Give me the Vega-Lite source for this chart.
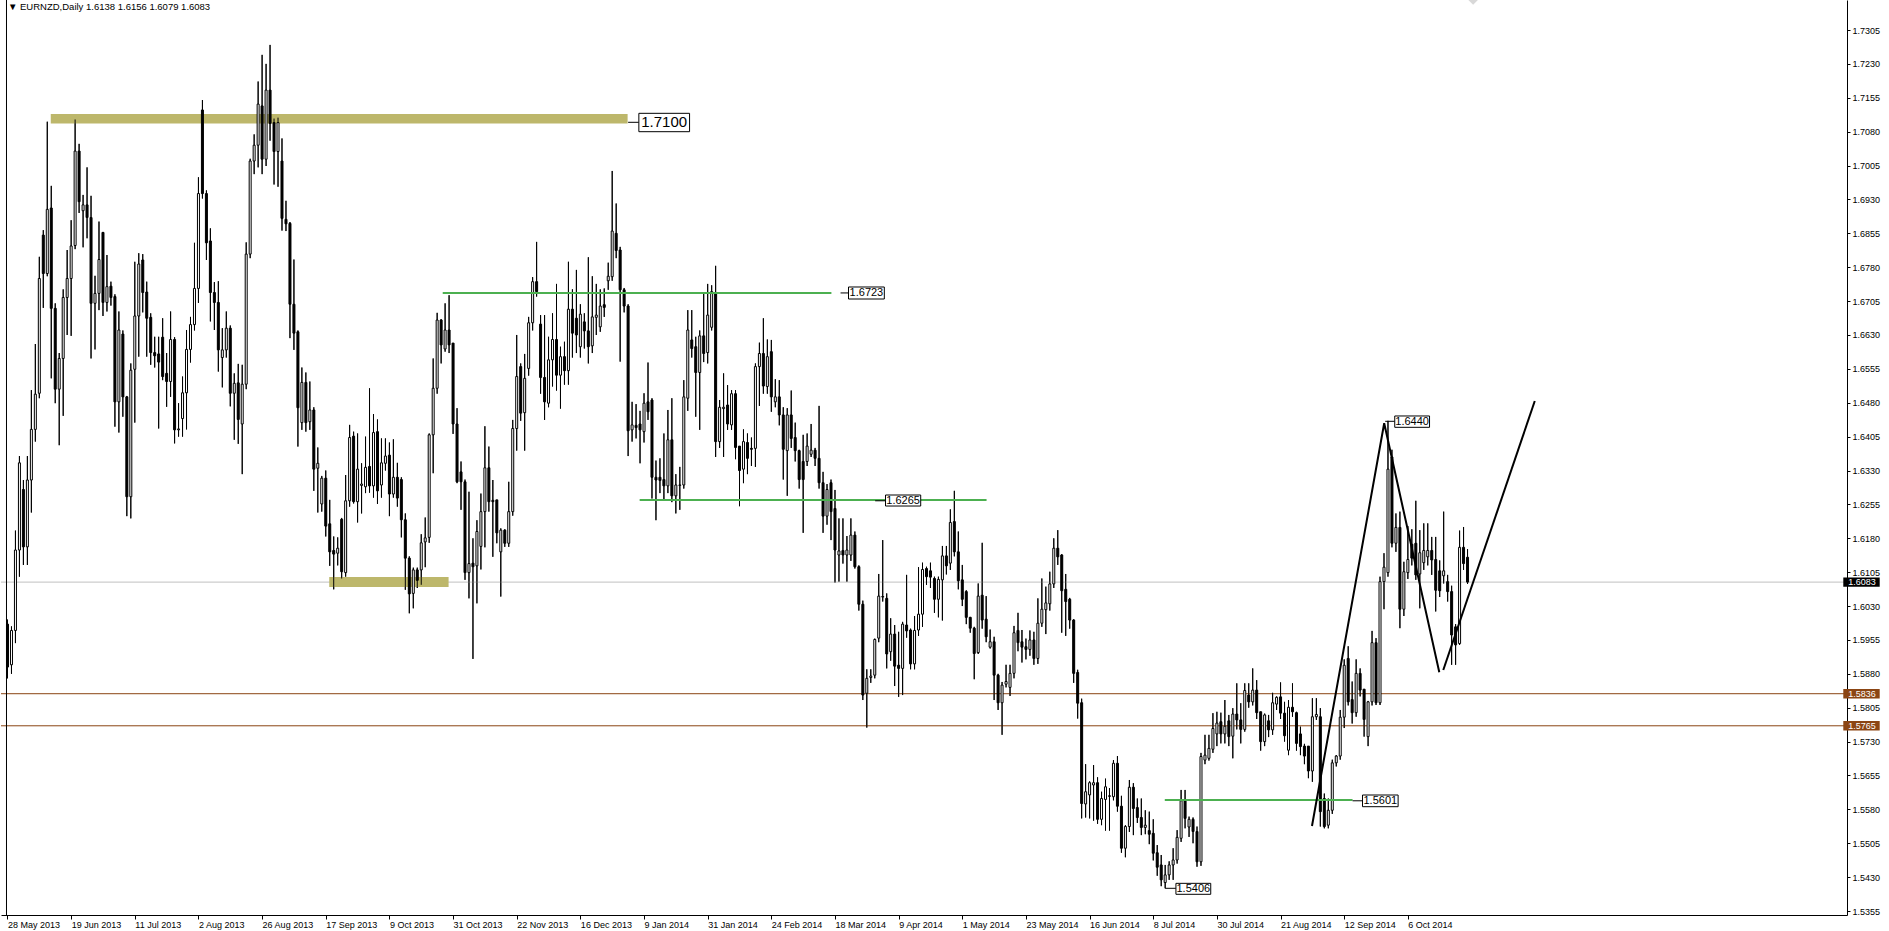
{
"$schema":"https://vega.github.io/schema/vega-lite/v6.json",
"width":1846,"height":915,
"autosize":{"type":"none"},
"padding":{"left":1,"top":0,"right":42,"bottom":16},
"background":"white",
"config":{"view":{"stroke":null},"axis":{"grid":false},"font":"Liberation Sans"},
"resolve":{"axis":{"x":"independent","y":"independent"}},
"datasets":{
"hlines":[{"p":1.6083,"col":"#C0C0C0"},{"p":1.5836,"col":"#8B4513"},{"p":1.5765,"col":"#8B4513"}],
"border":[{"i":-0.25}],
"zones":[{"x1":10.875,"x2":155.875,"y1":1.7119,"y2":1.7098},{"x1":80.875,"x2":110.875,"y1":1.60943,"y2":1.60722}],
"candles":[
{"i":0,"o":1.599,"h":1.6,"l":1.587,"c":1.5895},
{"i":1,"o":1.59,"h":1.5985,"l":1.588,"c":1.5976},
{"i":2,"o":1.5976,"h":1.6197,"l":1.5948,"c":1.6154},
{"i":3,"o":1.6154,"h":1.6362,"l":1.6095,"c":1.6347},
{"i":4,"o":1.6288,"h":1.6309,"l":1.6121,"c":1.6161},
{"i":5,"o":1.6161,"h":1.6362,"l":1.6121,"c":1.6309},
{"i":6,"o":1.6309,"h":1.6508,"l":1.6237,"c":1.6421},
{"i":7,"o":1.6421,"h":1.661,"l":1.6394,"c":1.6499},
{"i":8,"o":1.6501,"h":1.6803,"l":1.649,"c":1.6755},
{"i":9,"o":1.6851,"h":1.6862,"l":1.669,"c":1.6766},
{"i":10,"o":1.6766,"h":1.7102,"l":1.676,"c":1.6908},
{"i":11,"o":1.6911,"h":1.696,"l":1.6534,"c":1.6689},
{"i":12,"o":1.6689,"h":1.67,"l":1.6479,"c":1.651},
{"i":13,"o":1.651,"h":1.659,"l":1.6386,"c":1.6578},
{"i":14,"o":1.6578,"h":1.6731,"l":1.6451,"c":1.6713},
{"i":15,"o":1.6713,"h":1.6818,"l":1.663,"c":1.6755},
{"i":16,"o":1.6755,"h":1.6884,"l":1.6628,"c":1.6827},
{"i":17,"o":1.6828,"h":1.7107,"l":1.682,"c":1.7037},
{"i":18,"o":1.7037,"h":1.7053,"l":1.69,"c":1.6925},
{"i":19,"o":1.6905,"h":1.694,"l":1.6824,"c":1.6918},
{"i":20,"o":1.6918,"h":1.7001,"l":1.6844,"c":1.689},
{"i":21,"o":1.689,"h":1.6938,"l":1.6578,"c":1.67},
{"i":22,"o":1.67,"h":1.6761,"l":1.6598,"c":1.6722},
{"i":23,"o":1.6722,"h":1.6881,"l":1.6685,"c":1.6797},
{"i":24,"o":1.6857,"h":1.6858,"l":1.6672,"c":1.6702},
{"i":25,"o":1.6702,"h":1.6807,"l":1.6682,"c":1.6737},
{"i":26,"o":1.6738,"h":1.6748,"l":1.6695,"c":1.6713},
{"i":27,"o":1.6715,"h":1.672,"l":1.6427,"c":1.6482},
{"i":28,"o":1.6482,"h":1.6682,"l":1.6414,"c":1.6641},
{"i":29,"o":1.6632,"h":1.664,"l":1.6449,"c":1.6493},
{"i":30,"o":1.6493,"h":1.6495,"l":1.6229,"c":1.6272},
{"i":31,"o":1.6272,"h":1.6567,"l":1.6224,"c":1.6552},
{"i":32,"o":1.6554,"h":1.6792,"l":1.6436,"c":1.6672},
{"i":33,"o":1.6672,"h":1.6811,"l":1.6582,"c":1.6787},
{"i":34,"o":1.6796,"h":1.6809,"l":1.668,"c":1.6724},
{"i":35,"o":1.6725,"h":1.6748,"l":1.6582,"c":1.6667},
{"i":36,"o":1.6669,"h":1.6678,"l":1.6564,"c":1.6591},
{"i":37,"o":1.6591,"h":1.6626,"l":1.6558,"c":1.6584},
{"i":38,"o":1.6588,"h":1.6626,"l":1.6423,"c":1.657},
{"i":39,"o":1.6625,"h":1.6667,"l":1.653,"c":1.6538},
{"i":40,"o":1.6545,"h":1.659,"l":1.6471,"c":1.6527},
{"i":41,"o":1.6527,"h":1.6682,"l":1.6493,"c":1.662},
{"i":42,"o":1.662,"h":1.6625,"l":1.639,"c":1.642},
{"i":43,"o":1.642,"h":1.6479,"l":1.6405,"c":1.6422},
{"i":44,"o":1.6445,"h":1.6538,"l":1.6405,"c":1.6502},
{"i":45,"o":1.6502,"h":1.6641,"l":1.6421,"c":1.6598},
{"i":46,"o":1.6598,"h":1.667,"l":1.6569,"c":1.6653},
{"i":47,"o":1.6653,"h":1.6834,"l":1.664,"c":1.6733},
{"i":48,"o":1.6733,"h":1.6979,"l":1.6701,"c":1.6943},
{"i":49,"o":1.7128,"h":1.715,"l":1.6932,"c":1.6943},
{"i":50,"o":1.6943,"h":1.695,"l":1.6796,"c":1.6834},
{"i":51,"o":1.6838,"h":1.6866,"l":1.666,"c":1.6724},
{"i":52,"o":1.6724,"h":1.6747,"l":1.6641,"c":1.6702},
{"i":53,"o":1.6702,"h":1.6749,"l":1.6549,"c":1.6597},
{"i":54,"o":1.658,"h":1.6645,"l":1.6514,"c":1.6597},
{"i":55,"o":1.6597,"h":1.6682,"l":1.658,"c":1.6645},
{"i":56,"o":1.6645,"h":1.6651,"l":1.6472,"c":1.6501},
{"i":57,"o":1.6501,"h":1.6545,"l":1.6398,"c":1.6523},
{"i":58,"o":1.6524,"h":1.6566,"l":1.6389,"c":1.6443},
{"i":59,"o":1.6433,"h":1.6564,"l":1.6322,"c":1.6521},
{"i":60,"o":1.6521,"h":1.6835,"l":1.651,"c":1.6809},
{"i":61,"o":1.6809,"h":1.702,"l":1.68,"c":1.7015},
{"i":62,"o":1.7015,"h":1.7074,"l":1.6986,"c":1.705},
{"i":63,"o":1.705,"h":1.7191,"l":1.7001,"c":1.7141},
{"i":64,"o":1.7137,"h":1.725,"l":1.6986,"c":1.7019},
{"i":65,"o":1.7019,"h":1.723,"l":1.7004,"c":1.7172},
{"i":66,"o":1.7172,"h":1.7272,"l":1.706,"c":1.7098},
{"i":67,"o":1.71,"h":1.7109,"l":1.6963,"c":1.7036},
{"i":68,"o":1.7036,"h":1.7111,"l":1.6958,"c":1.71},
{"i":69,"o":1.7015,"h":1.7065,"l":1.6861,"c":1.6888},
{"i":70,"o":1.6886,"h":1.6927,"l":1.686,"c":1.6876},
{"i":71,"o":1.6877,"h":1.688,"l":1.6623,"c":1.6698},
{"i":72,"o":1.6698,"h":1.6797,"l":1.6597,"c":1.6634},
{"i":73,"o":1.6637,"h":1.664,"l":1.6383,"c":1.6469},
{"i":74,"o":1.6436,"h":1.6558,"l":1.642,"c":1.6525},
{"i":75,"o":1.6525,"h":1.6547,"l":1.6416,"c":1.6436},
{"i":76,"o":1.6438,"h":1.6527,"l":1.642,"c":1.6464},
{"i":77,"o":1.6464,"h":1.647,"l":1.6285,"c":1.6333},
{"i":78,"o":1.6335,"h":1.6381,"l":1.6237,"c":1.6346},
{"i":79,"o":1.6256,"h":1.6318,"l":1.6239,"c":1.6313},
{"i":80,"o":1.6313,"h":1.633,"l":1.6184,"c":1.6207},
{"i":81,"o":1.6212,"h":1.6265,"l":1.6119,"c":1.615},
{"i":82,"o":1.6153,"h":1.6184,"l":1.6067,"c":1.6145},
{"i":83,"o":1.6147,"h":1.6182,"l":1.612,"c":1.6158},
{"i":84,"o":1.6222,"h":1.6225,"l":1.6091,"c":1.6106},
{"i":85,"o":1.6104,"h":1.632,"l":1.6095,"c":1.6263},
{"i":86,"o":1.6263,"h":1.6431,"l":1.625,"c":1.6403},
{"i":87,"o":1.6406,"h":1.6416,"l":1.6257,"c":1.6261},
{"i":88,"o":1.6261,"h":1.6412,"l":1.6215,"c":1.6333},
{"i":89,"o":1.6297,"h":1.6346,"l":1.6235,"c":1.63},
{"i":90,"o":1.6294,"h":1.6405,"l":1.628,"c":1.6337},
{"i":91,"o":1.6339,"h":1.6512,"l":1.6281,"c":1.6296},
{"i":92,"o":1.6296,"h":1.6455,"l":1.627,"c":1.6414},
{"i":93,"o":1.6416,"h":1.6443,"l":1.6256,"c":1.6285},
{"i":94,"o":1.6298,"h":1.6401,"l":1.627,"c":1.6347},
{"i":95,"o":1.6346,"h":1.6401,"l":1.633,"c":1.6362},
{"i":96,"o":1.6364,"h":1.6392,"l":1.6229,"c":1.6278},
{"i":97,"o":1.6278,"h":1.6399,"l":1.627,"c":1.6315},
{"i":98,"o":1.6315,"h":1.6347,"l":1.625,"c":1.6269},
{"i":99,"o":1.631,"h":1.6315,"l":1.6182,"c":1.6221},
{"i":100,"o":1.6221,"h":1.6235,"l":1.6066,"c":1.6136},
{"i":101,"o":1.6136,"h":1.614,"l":1.6014,"c":1.6057},
{"i":102,"o":1.6058,"h":1.6115,"l":1.6025,"c":1.611},
{"i":103,"o":1.611,"h":1.6115,"l":1.607,"c":1.6087},
{"i":104,"o":1.611,"h":1.6189,"l":1.6077,"c":1.617},
{"i":105,"o":1.6172,"h":1.6226,"l":1.6116,"c":1.6181},
{"i":106,"o":1.6182,"h":1.6412,"l":1.617,"c":1.6409},
{"i":107,"o":1.6409,"h":1.6578,"l":1.6324,"c":1.6512},
{"i":108,"o":1.6512,"h":1.6679,"l":1.65,"c":1.6663},
{"i":109,"o":1.6663,"h":1.6665,"l":1.6567,"c":1.6608},
{"i":110,"o":1.6599,"h":1.67,"l":1.6593,"c":1.6641},
{"i":111,"o":1.6641,"h":1.6718,"l":1.659,"c":1.6608},
{"i":112,"o":1.6612,"h":1.6612,"l":1.6411,"c":1.6433},
{"i":113,"o":1.6433,"h":1.6468,"l":1.6302,"c":1.6305},
{"i":114,"o":1.6327,"h":1.635,"l":1.6243,"c":1.6305},
{"i":115,"o":1.6305,"h":1.631,"l":1.6088,"c":1.6104},
{"i":116,"o":1.6104,"h":1.6283,"l":1.6047,"c":1.6124},
{"i":117,"o":1.6125,"h":1.618,"l":1.5913,"c":1.6117},
{"i":118,"o":1.6119,"h":1.622,"l":1.6036,"c":1.6195},
{"i":119,"o":1.6162,"h":1.6279,"l":1.6111,"c":1.6239},
{"i":120,"o":1.6239,"h":1.6428,"l":1.616,"c":1.6336},
{"i":121,"o":1.6336,"h":1.6383,"l":1.6239,"c":1.6261},
{"i":122,"o":1.6264,"h":1.6309,"l":1.6139,"c":1.6261},
{"i":123,"o":1.6265,"h":1.6265,"l":1.6169,"c":1.6192},
{"i":124,"o":1.615,"h":1.6202,"l":1.6051,"c":1.6198},
{"i":125,"o":1.6198,"h":1.62,"l":1.6161,"c":1.6169},
{"i":126,"o":1.6169,"h":1.6305,"l":1.6161,"c":1.6239},
{"i":127,"o":1.6239,"h":1.6442,"l":1.623,"c":1.6423},
{"i":128,"o":1.6423,"h":1.663,"l":1.6374,"c":1.6538},
{"i":129,"o":1.656,"h":1.6567,"l":1.644,"c":1.6457},
{"i":130,"o":1.6458,"h":1.6588,"l":1.6374,"c":1.6534},
{"i":131,"o":1.6556,"h":1.667,"l":1.654,"c":1.6657},
{"i":132,"o":1.6657,"h":1.6758,"l":1.664,"c":1.6748},
{"i":133,"o":1.6748,"h":1.6836,"l":1.6715,"c":1.6726},
{"i":134,"o":1.6654,"h":1.6674,"l":1.65,"c":1.6536},
{"i":135,"o":1.6536,"h":1.6674,"l":1.6442,"c":1.6482},
{"i":136,"o":1.6479,"h":1.6626,"l":1.647,"c":1.6575},
{"i":137,"o":1.6575,"h":1.6678,"l":1.6516,"c":1.662},
{"i":138,"o":1.662,"h":1.6743,"l":1.6507,"c":1.6541},
{"i":139,"o":1.6541,"h":1.6604,"l":1.6467,"c":1.6582},
{"i":140,"o":1.6582,"h":1.6615,"l":1.652,"c":1.6551},
{"i":141,"o":1.6551,"h":1.6792,"l":1.652,"c":1.6687},
{"i":142,"o":1.6687,"h":1.6731,"l":1.658,"c":1.6634},
{"i":143,"o":1.6667,"h":1.6774,"l":1.659,"c":1.663},
{"i":144,"o":1.6604,"h":1.6698,"l":1.658,"c":1.6676},
{"i":145,"o":1.6659,"h":1.6678,"l":1.66,"c":1.6639},
{"i":146,"o":1.6639,"h":1.6802,"l":1.6567,"c":1.6604},
{"i":147,"o":1.6606,"h":1.676,"l":1.659,"c":1.667},
{"i":148,"o":1.6669,"h":1.6743,"l":1.663,"c":1.6674},
{"i":149,"o":1.6648,"h":1.6731,"l":1.6637,"c":1.6694},
{"i":150,"o":1.6697,"h":1.6733,"l":1.667,"c":1.6691},
{"i":151,"o":1.675,"h":1.679,"l":1.673,"c":1.676},
{"i":152,"o":1.6759,"h":1.6993,"l":1.675,"c":1.686},
{"i":153,"o":1.6855,"h":1.6921,"l":1.68,"c":1.6817},
{"i":154,"o":1.6818,"h":1.6825,"l":1.6571,"c":1.673},
{"i":155,"o":1.673,"h":1.6734,"l":1.668,"c":1.6694},
{"i":156,"o":1.6694,"h":1.6698,"l":1.6362,"c":1.6418},
{"i":157,"o":1.642,"h":1.6482,"l":1.6394,"c":1.6431},
{"i":158,"o":1.643,"h":1.6477,"l":1.6401,"c":1.6425},
{"i":159,"o":1.6433,"h":1.6462,"l":1.6346,"c":1.642},
{"i":160,"o":1.6416,"h":1.6501,"l":1.6392,"c":1.6479},
{"i":161,"o":1.6482,"h":1.6569,"l":1.6442,"c":1.646},
{"i":162,"o":1.6486,"h":1.649,"l":1.6268,"c":1.6315},
{"i":163,"o":1.6315,"h":1.6352,"l":1.622,"c":1.6309},
{"i":164,"o":1.6315,"h":1.6357,"l":1.628,"c":1.6308},
{"i":165,"o":1.631,"h":1.6412,"l":1.6266,"c":1.6296},
{"i":166,"o":1.6296,"h":1.6464,"l":1.628,"c":1.6398},
{"i":167,"o":1.6398,"h":1.649,"l":1.626,"c":1.6274},
{"i":168,"o":1.6274,"h":1.6322,"l":1.6235,"c":1.6298},
{"i":169,"o":1.6297,"h":1.6338,"l":1.6243,"c":1.6298},
{"i":170,"o":1.6298,"h":1.653,"l":1.629,"c":1.6493},
{"i":171,"o":1.649,"h":1.6685,"l":1.6462,"c":1.6641},
{"i":172,"o":1.6619,"h":1.6685,"l":1.658,"c":1.66},
{"i":173,"o":1.6604,"h":1.6626,"l":1.6449,"c":1.6547},
{"i":174,"o":1.6547,"h":1.664,"l":1.642,"c":1.6628},
{"i":175,"o":1.6628,"h":1.6721,"l":1.657,"c":1.6589},
{"i":176,"o":1.6591,"h":1.6743,"l":1.6567,"c":1.6674},
{"i":177,"o":1.6647,"h":1.674,"l":1.664,"c":1.6726},
{"i":178,"o":1.6722,"h":1.6783,"l":1.636,"c":1.6394},
{"i":179,"o":1.6394,"h":1.6486,"l":1.638,"c":1.647},
{"i":180,"o":1.6467,"h":1.6545,"l":1.636,"c":1.647},
{"i":181,"o":1.6475,"h":1.6519,"l":1.642,"c":1.6433},
{"i":182,"o":1.6431,"h":1.6508,"l":1.642,"c":1.65},
{"i":183,"o":1.65,"h":1.6508,"l":1.6355,"c":1.6381},
{"i":184,"o":1.6384,"h":1.6384,"l":1.6251,"c":1.633},
{"i":185,"o":1.6333,"h":1.6421,"l":1.6302,"c":1.6394},
{"i":186,"o":1.6392,"h":1.6412,"l":1.6322,"c":1.6357},
{"i":187,"o":1.6379,"h":1.6403,"l":1.634,"c":1.6377},
{"i":188,"o":1.6379,"h":1.6567,"l":1.6338,"c":1.656},
{"i":189,"o":1.656,"h":1.6613,"l":1.6473,"c":1.6589},
{"i":190,"o":1.6589,"h":1.6667,"l":1.65,"c":1.6517},
{"i":191,"o":1.6516,"h":1.662,"l":1.65,"c":1.6582},
{"i":192,"o":1.6593,"h":1.6619,"l":1.646,"c":1.6493},
{"i":193,"o":1.6482,"h":1.6532,"l":1.647,"c":1.6493},
{"i":194,"o":1.6493,"h":1.653,"l":1.643,"c":1.6453},
{"i":195,"o":1.6453,"h":1.647,"l":1.631,"c":1.6377},
{"i":196,"o":1.6374,"h":1.6468,"l":1.6274,"c":1.6453},
{"i":197,"o":1.6453,"h":1.6507,"l":1.638,"c":1.6401},
{"i":198,"o":1.6403,"h":1.6436,"l":1.635,"c":1.6374},
{"i":199,"o":1.6374,"h":1.6376,"l":1.629,"c":1.631},
{"i":200,"o":1.635,"h":1.6409,"l":1.6192,"c":1.631},
{"i":201,"o":1.635,"h":1.6412,"l":1.634,"c":1.6384},
{"i":202,"o":1.6366,"h":1.6433,"l":1.636,"c":1.6375},
{"i":203,"o":1.6375,"h":1.638,"l":1.634,"c":1.6357},
{"i":204,"o":1.6357,"h":1.6473,"l":1.629,"c":1.6303},
{"i":205,"o":1.6303,"h":1.6327,"l":1.6192,"c":1.6229},
{"i":206,"o":1.6229,"h":1.63,"l":1.621,"c":1.6288},
{"i":207,"o":1.6303,"h":1.631,"l":1.6176,"c":1.6239},
{"i":208,"o":1.6246,"h":1.6287,"l":1.6082,"c":1.6154},
{"i":209,"o":1.6143,"h":1.6224,"l":1.6084,"c":1.6152},
{"i":210,"o":1.6153,"h":1.6224,"l":1.6124,"c":1.6143},
{"i":211,"o":1.6143,"h":1.6185,"l":1.6084,"c":1.6154},
{"i":212,"o":1.6143,"h":1.6224,"l":1.613,"c":1.6187},
{"i":213,"o":1.6187,"h":1.6195,"l":1.6113,"c":1.6117},
{"i":214,"o":1.6117,"h":1.612,"l":1.602,"c":1.6034},
{"i":215,"o":1.6034,"h":1.6042,"l":1.5822,"c":1.5833},
{"i":216,"o":1.5837,"h":1.589,"l":1.5761,"c":1.587},
{"i":217,"o":1.5872,"h":1.589,"l":1.586,"c":1.5875},
{"i":218,"o":1.5877,"h":1.5958,"l":1.587,"c":1.5956},
{"i":219,"o":1.5959,"h":1.6101,"l":1.595,"c":1.6052},
{"i":220,"o":1.6051,"h":1.6176,"l":1.604,"c":1.605},
{"i":221,"o":1.6047,"h":1.6058,"l":1.5892,"c":1.5924},
{"i":222,"o":1.5929,"h":1.6003,"l":1.5909,"c":1.5968},
{"i":223,"o":1.5968,"h":1.5988,"l":1.5853,"c":1.5897},
{"i":224,"o":1.5899,"h":1.5973,"l":1.5829,"c":1.5892},
{"i":225,"o":1.5892,"h":1.5995,"l":1.5833,"c":1.599},
{"i":226,"o":1.5988,"h":1.6099,"l":1.596,"c":1.5975},
{"i":227,"o":1.5977,"h":1.598,"l":1.589,"c":1.5902},
{"i":228,"o":1.5902,"h":1.6008,"l":1.589,"c":1.5976},
{"i":229,"o":1.5977,"h":1.6116,"l":1.5964,"c":1.6012},
{"i":230,"o":1.6012,"h":1.6126,"l":1.5984,"c":1.6111},
{"i":231,"o":1.6113,"h":1.6117,"l":1.6077,"c":1.6095},
{"i":232,"o":1.6108,"h":1.6126,"l":1.607,"c":1.6094},
{"i":233,"o":1.6091,"h":1.6095,"l":1.6015,"c":1.6045},
{"i":234,"o":1.6045,"h":1.6095,"l":1.6005,"c":1.6089},
{"i":235,"o":1.6088,"h":1.6163,"l":1.5998,"c":1.6141},
{"i":236,"o":1.6141,"h":1.6163,"l":1.61,"c":1.6119},
{"i":237,"o":1.6125,"h":1.6244,"l":1.611,"c":1.6215},
{"i":238,"o":1.6217,"h":1.6285,"l":1.614,"c":1.615},
{"i":239,"o":1.615,"h":1.6195,"l":1.6067,"c":1.6086},
{"i":240,"o":1.6088,"h":1.6121,"l":1.603,"c":1.6045},
{"i":241,"o":1.6062,"h":1.6065,"l":1.599,"c":1.6005},
{"i":242,"o":1.6005,"h":1.6006,"l":1.5971,"c":1.5981},
{"i":243,"o":1.5981,"h":1.5984,"l":1.5868,"c":1.5925},
{"i":244,"o":1.5927,"h":1.608,"l":1.5924,"c":1.6052},
{"i":245,"o":1.6054,"h":1.617,"l":1.598,"c":1.5999},
{"i":246,"o":1.6001,"h":1.6052,"l":1.595,"c":1.5962},
{"i":247,"o":1.5939,"h":1.5978,"l":1.5936,"c":1.5951},
{"i":248,"o":1.5951,"h":1.5962,"l":1.5822,"c":1.5877},
{"i":249,"o":1.5877,"h":1.588,"l":1.58,"c":1.5816},
{"i":250,"o":1.5816,"h":1.5862,"l":1.5745,"c":1.5855},
{"i":251,"o":1.5857,"h":1.59,"l":1.585,"c":1.5863},
{"i":252,"o":1.585,"h":1.59,"l":1.5831,"c":1.5881},
{"i":253,"o":1.5881,"h":1.5986,"l":1.587,"c":1.5971},
{"i":254,"o":1.5976,"h":1.6015,"l":1.593,"c":1.5949},
{"i":255,"o":1.5951,"h":1.5977,"l":1.5905,"c":1.5939},
{"i":256,"o":1.594,"h":1.5958,"l":1.5912,"c":1.5934},
{"i":257,"o":1.5934,"h":1.5976,"l":1.592,"c":1.5955},
{"i":258,"o":1.5955,"h":1.5973,"l":1.59,"c":1.5914},
{"i":259,"o":1.5914,"h":1.6047,"l":1.5902,"c":1.5992},
{"i":260,"o":1.5992,"h":1.6091,"l":1.5984,"c":1.6023},
{"i":261,"o":1.6022,"h":1.6073,"l":1.5968,"c":1.6037},
{"i":262,"o":1.6035,"h":1.6106,"l":1.602,"c":1.6079},
{"i":263,"o":1.6079,"h":1.618,"l":1.607,"c":1.6158},
{"i":264,"o":1.6158,"h":1.6198,"l":1.6121,"c":1.6139},
{"i":265,"o":1.6143,"h":1.6145,"l":1.5971,"c":1.6064},
{"i":266,"o":1.6067,"h":1.6101,"l":1.5964,"c":1.604},
{"i":267,"o":1.6045,"h":1.6048,"l":1.598,"c":1.5999},
{"i":268,"o":1.5999,"h":1.6001,"l":1.586,"c":1.5881},
{"i":269,"o":1.5883,"h":1.5889,"l":1.5781,"c":1.5815},
{"i":270,"o":1.5816,"h":1.5825,"l":1.556,"c":1.5593},
{"i":271,"o":1.5592,"h":1.568,"l":1.5562,"c":1.5619},
{"i":272,"o":1.5612,"h":1.5642,"l":1.556,"c":1.5639},
{"i":273,"o":1.5634,"h":1.5678,"l":1.5555,"c":1.5639},
{"i":274,"o":1.5639,"h":1.5651,"l":1.5548,"c":1.5558},
{"i":275,"o":1.5558,"h":1.5619,"l":1.5545,"c":1.5604},
{"i":276,"o":1.5602,"h":1.5648,"l":1.5533,"c":1.563},
{"i":277,"o":1.561,"h":1.5627,"l":1.5533,"c":1.5609},
{"i":278,"o":1.5608,"h":1.5689,"l":1.56,"c":1.5682},
{"i":279,"o":1.5682,"h":1.5698,"l":1.5575,"c":1.5587},
{"i":280,"o":1.5587,"h":1.561,"l":1.5484,"c":1.5494},
{"i":281,"o":1.5494,"h":1.5545,"l":1.5474,"c":1.5542},
{"i":282,"o":1.5542,"h":1.5645,"l":1.553,"c":1.5629},
{"i":283,"o":1.5629,"h":1.5638,"l":1.5523,"c":1.5582},
{"i":284,"o":1.5584,"h":1.5604,"l":1.555,"c":1.5562},
{"i":285,"o":1.5562,"h":1.5604,"l":1.5523,"c":1.554},
{"i":286,"o":1.554,"h":1.5578,"l":1.5525,"c":1.5545},
{"i":287,"o":1.5533,"h":1.5575,"l":1.5503,"c":1.5525},
{"i":288,"o":1.5527,"h":1.5558,"l":1.5467,"c":1.5483},
{"i":289,"o":1.5484,"h":1.5501,"l":1.5433,"c":1.5452},
{"i":290,"o":1.5457,"h":1.5479,"l":1.541,"c":1.5424},
{"i":291,"o":1.5418,"h":1.5457,"l":1.5406,"c":1.5435},
{"i":292,"o":1.5435,"h":1.5465,"l":1.5424,"c":1.5457},
{"i":293,"o":1.5457,"h":1.5494,"l":1.5424,"c":1.5468},
{"i":294,"o":1.5468,"h":1.5534,"l":1.546,"c":1.5518},
{"i":295,"o":1.5516,"h":1.5623,"l":1.5508,"c":1.5599},
{"i":296,"o":1.5599,"h":1.5623,"l":1.5538,"c":1.556},
{"i":297,"o":1.5541,"h":1.5564,"l":1.5519,"c":1.5558},
{"i":298,"o":1.5558,"h":1.5562,"l":1.5505,"c":1.5531},
{"i":299,"o":1.5531,"h":1.5542,"l":1.5453,"c":1.5464},
{"i":300,"o":1.5464,"h":1.5705,"l":1.5455,"c":1.5697},
{"i":301,"o":1.5689,"h":1.5745,"l":1.568,"c":1.57},
{"i":302,"o":1.5693,"h":1.5745,"l":1.5688,"c":1.5715},
{"i":303,"o":1.5713,"h":1.5793,"l":1.5705,"c":1.5759},
{"i":304,"o":1.5747,"h":1.5796,"l":1.572,"c":1.5771},
{"i":305,"o":1.5774,"h":1.5794,"l":1.5726,"c":1.5747},
{"i":306,"o":1.5747,"h":1.5822,"l":1.5726,"c":1.5764},
{"i":307,"o":1.5776,"h":1.5789,"l":1.572,"c":1.5741},
{"i":308,"o":1.5742,"h":1.5804,"l":1.5693,"c":1.5791},
{"i":309,"o":1.5791,"h":1.5859,"l":1.5757,"c":1.5778},
{"i":310,"o":1.5778,"h":1.5815,"l":1.5726,"c":1.5757},
{"i":311,"o":1.5757,"h":1.5859,"l":1.5752,"c":1.5843},
{"i":312,"o":1.5833,"h":1.5859,"l":1.5805,"c":1.5818},
{"i":313,"o":1.5818,"h":1.5892,"l":1.581,"c":1.5844},
{"i":314,"o":1.5844,"h":1.5866,"l":1.578,"c":1.5794},
{"i":315,"o":1.5796,"h":1.5796,"l":1.571,"c":1.573},
{"i":316,"o":1.573,"h":1.5792,"l":1.572,"c":1.5789},
{"i":317,"o":1.5776,"h":1.5789,"l":1.574,"c":1.5756},
{"i":318,"o":1.5756,"h":1.5838,"l":1.5745,"c":1.5816},
{"i":319,"o":1.5813,"h":1.583,"l":1.58,"c":1.5828},
{"i":320,"o":1.5829,"h":1.5861,"l":1.578,"c":1.5793},
{"i":321,"o":1.5793,"h":1.5818,"l":1.573,"c":1.5743},
{"i":322,"o":1.5711,"h":1.5822,"l":1.57,"c":1.5806},
{"i":323,"o":1.5806,"h":1.5859,"l":1.5785,"c":1.5796},
{"i":324,"o":1.5794,"h":1.5796,"l":1.571,"c":1.5726},
{"i":325,"o":1.5747,"h":1.5763,"l":1.57,"c":1.5719},
{"i":326,"o":1.572,"h":1.5725,"l":1.568,"c":1.5698},
{"i":327,"o":1.572,"h":1.572,"l":1.5649,"c":1.5665},
{"i":328,"o":1.5665,"h":1.5826,"l":1.5641,"c":1.5785},
{"i":329,"o":1.5785,"h":1.5826,"l":1.5778,"c":1.579},
{"i":330,"o":1.5785,"h":1.5804,"l":1.5542,"c":1.5575},
{"i":331,"o":1.5604,"h":1.5615,"l":1.5538,"c":1.5542},
{"i":332,"o":1.5545,"h":1.5604,"l":1.5538,"c":1.5578},
{"i":333,"o":1.5578,"h":1.569,"l":1.557,"c":1.5683},
{"i":334,"o":1.5683,"h":1.57,"l":1.5675,"c":1.5698},
{"i":335,"o":1.5698,"h":1.58,"l":1.569,"c":1.5784},
{"i":336,"o":1.5784,"h":1.5912,"l":1.576,"c":1.5899},
{"i":337,"o":1.5914,"h":1.5941,"l":1.581,"c":1.5818},
{"i":338,"o":1.5823,"h":1.5863,"l":1.577,"c":1.5794},
{"i":339,"o":1.5794,"h":1.5912,"l":1.5785,"c":1.5881},
{"i":340,"o":1.5881,"h":1.5892,"l":1.583,"c":1.5844},
{"i":341,"o":1.5846,"h":1.5846,"l":1.5741,"c":1.5779},
{"i":342,"o":1.5741,"h":1.582,"l":1.572,"c":1.5818},
{"i":343,"o":1.5818,"h":1.5975,"l":1.581,"c":1.5949},
{"i":344,"o":1.5949,"h":1.5959,"l":1.5811,"c":1.5816},
{"i":345,"o":1.5816,"h":1.6095,"l":1.5811,"c":1.6084},
{"i":346,"o":1.6084,"h":1.6147,"l":1.6023,"c":1.6116},
{"i":347,"o":1.6104,"h":1.644,"l":1.6095,"c":1.6333},
{"i":348,"o":1.636,"h":1.6376,"l":1.616,"c":1.6169},
{"i":349,"o":1.6169,"h":1.6235,"l":1.615,"c":1.6204},
{"i":350,"o":1.6204,"h":1.6239,"l":1.5981,"c":1.6023},
{"i":351,"o":1.6023,"h":1.6128,"l":1.6008,"c":1.6106},
{"i":352,"o":1.6104,"h":1.6207,"l":1.609,"c":1.6133},
{"i":353,"o":1.6167,"h":1.62,"l":1.612,"c":1.6136},
{"i":354,"o":1.6169,"h":1.6263,"l":1.6088,"c":1.6099},
{"i":355,"o":1.6101,"h":1.6198,"l":1.6025,"c":1.6148},
{"i":356,"o":1.6126,"h":1.6213,"l":1.611,"c":1.6153},
{"i":357,"o":1.6139,"h":1.6213,"l":1.612,"c":1.6153},
{"i":358,"o":1.6153,"h":1.6183,"l":1.6099,"c":1.6132},
{"i":359,"o":1.6133,"h":1.6183,"l":1.6018,"c":1.6065},
{"i":360,"o":1.6108,"h":1.6131,"l":1.605,"c":1.6064},
{"i":361,"o":1.6097,"h":1.6239,"l":1.608,"c":1.6108},
{"i":362,"o":1.6084,"h":1.6099,"l":1.604,"c":1.6062},
{"i":363,"o":1.6062,"h":1.6075,"l":1.59,"c":1.5966},
{"i":364,"o":1.5984,"h":1.599,"l":1.59,"c":1.5944},
{"i":365,"o":1.5947,"h":1.6197,"l":1.5944,"c":1.616},
{"i":366,"o":1.616,"h":1.6205,"l":1.611,"c":1.6124},
{"i":367,"o":1.6138,"h":1.6156,"l":1.6079,"c":1.6083}
],
"green":[{"x1":109.4,"x2":207.1,"p":1.6723},{"x1":158.9,"x2":246.1,"p":1.6265},{"x1":290.9,"x2":338.1,"p":1.5601}],
"zigzag":[{"seg":1,"k":1,"i":327.9,"p":1.55432},{"seg":1,"k":2,"i":346.05,"p":1.64345},{"seg":1,"k":3,"i":359.9,"p":1.58834},{"seg":2,"k":1,"i":360.9,"p":1.58885},{"seg":2,"k":2,"i":383.9,"p":1.64838}],
"connectors":[{"x1":156.0,"x2":158.7,"p":1.71007},{"x1":209.4,"x2":211.4,"p":1.6723},{"x1":218.1,"x2":220.7,"p":1.6263},{"x1":338.1,"x2":340.6,"p":1.5599},{"x1":346.3,"x2":348.7,"p":1.64389},{"x1":290.9,"x2":293.7,"p":1.54053}],
"boxes":[
{"x1":158.7,"x2":171.45,"y1":1.71206,"y2":1.70799,"tx":165.07,"ty":1.71003,"t":"1.7100","fs":15},
{"x1":211.4,"x2":220.4,"y1":1.67362,"y2":1.67096,"tx":215.9,"ty":1.67229,"t":"1.6723","fs":11},
{"x1":220.7,"x2":229.55,"y1":1.62758,"y2":1.62514,"tx":225.12,"ty":1.62636,"t":"1.6265","fs":11},
{"x1":340.6,"x2":349.55,"y1":1.56118,"y2":1.55859,"tx":345.07,"ty":1.55988,"t":"1.5601","fs":11},
{"x1":348.7,"x2":357.45,"y1":1.64507,"y2":1.64256,"tx":353.07,"ty":1.64382,"t":"1.6440","fs":11},
{"x1":293.7,"x2":302.45,"y1":1.54163,"y2":1.5392,"tx":298.07,"ty":1.54042,"t":"1.5406","fs":11}
],
"tags":[
{"x1":461.45,"x2":470.6,"y1":1.60934,"y2":1.60726,"tx":462.7,"p":1.6083,"t":"1.6083","col":"#000000"},
{"x1":461.45,"x2":470.6,"y1":1.58464,"y2":1.58256,"tx":462.7,"p":1.5836,"t":"1.5836","col":"#8B4513"},
{"x1":461.45,"x2":470.6,"y1":1.57754,"y2":1.57546,"tx":462.7,"p":1.5765,"t":"1.5765","col":"#8B4513"}
],
"header":[{"i":0.125,"p":1.73482,"t":"▼  EURNZD,Daily  1.6138 1.6156 1.6079 1.6083"}],
"marker":[{"i":368.4,"p":1.73714}]
},
"layer":[
{"data":{"name":"candles"},"mark":{"type":"rule","color":"#000000","strokeWidth":1},
 "encoding":{"x":{"field":"i","type":"quantitative","scale":{"domain":[-0.375,461.125],"nice":false,"zero":false},
   "axis":{"orient":"bottom","title":null,"values":[0,16,32,48,64,80,96,112,128,144,160,176,192,208,224,240,256,272,288,304,320,336,352],
   "labelExpr":"['28 May 2013','19 Jun 2013','11 Jul 2013','2 Aug 2013','26 Aug 2013','17 Sep 2013','9 Oct 2013','31 Oct 2013','22 Nov 2013','16 Dec 2013','9 Jan 2014','31 Jan 2014','24 Feb 2014','18 Mar 2014','9 Apr 2014','1 May 2014','23 May 2014','16 Jun 2014','8 Jul 2014','30 Jul 2014','21 Aug 2014','12 Sep 2014','6 Oct 2014'][round(datum.value/16)]",
   "labelAlign":"left","labelBaseline":"top","labelFontSize":9,"labelPadding":1,"labelColor":"#000000","tickSize":4,"tickColor":"#000000","domainColor":"#000000","labelFlush":false,"labelOverlap":false}},
 "y":{"field":"l","type":"quantitative","scale":{"domain":[1.53462,1.73714],"nice":false,"zero":false},
   "axis":{"orient":"right","title":null,"values":[1.5355,1.543,1.5505,1.558,1.5655,1.573,1.5805,1.588,1.5955,1.603,1.6105,1.618,1.6255,1.633,1.6405,1.648,1.6555,1.663,1.6705,1.678,1.6855,1.693,1.7005,1.708,1.7155,1.723,1.7305],
   "format":".4f","labelFontSize":9,"labelPadding":2,"tickSize":3,"tickColor":"#000000","domainColor":"#000000","labelColor":"#000000","labelFlush":false,"labelOverlap":false,"labelBaseline":"middle"}},
 "y2":{"field":"h"}}},
{"data":{"name":"hlines"},"mark":{"type":"rule","strokeWidth":1},
 "encoding":{"y":{"field":"p","type":"quantitative","scale":{"domain":[1.53462,1.73714],"nice":false,"zero":false},"axis":null},
 "color":{"field":"col","type":"nominal","scale":null}}},
{"data":{"name":"border"},"mark":{"type":"rule","strokeWidth":1,"color":"#000000"},
 "encoding":{"x":{"field":"i","type":"quantitative","scale":{"domain":[-0.375,461.125],"nice":false,"zero":false},"axis":null}}},
{"data":{"name":"zones"},"mark":{"type":"rect","color":"#BDB76B"},
 "encoding":{"x":{"field":"x1","type":"quantitative","scale":{"domain":[-0.375,461.125],"nice":false,"zero":false},"axis":null},"x2":{"field":"x2"},
 "y":{"field":"y1","type":"quantitative","scale":{"domain":[1.53462,1.73714],"nice":false,"zero":false},"axis":null},"y2":{"field":"y2"}}},
{"data":{"name":"candles"},"mark":{"type":"rule","color":"#000000","strokeWidth":1},
 "encoding":{"x":{"field":"i","type":"quantitative","scale":{"domain":[-0.375,461.125],"nice":false,"zero":false},"axis":null},
 "y":{"field":"l","type":"quantitative","scale":{"domain":[1.53462,1.73714],"nice":false,"zero":false},"axis":null},"y2":{"field":"h"}}},
{"data":{"name":"candles"},"mark":{"type":"bar","size":2,"stroke":"#000000","strokeWidth":1},
 "encoding":{"x":{"field":"i","type":"quantitative","scale":{"domain":[-0.375,461.125],"nice":false,"zero":false},"axis":null},
 "y":{"field":"o","type":"quantitative","scale":{"domain":[1.53462,1.73714],"nice":false,"zero":false},"axis":null},"y2":{"field":"c"},
 "fill":{"condition":{"test":"datum.c < datum.o","value":"#000000"},"value":"#FFFFFF"}}},
{"data":{"name":"green"},"mark":{"type":"rule","color":"#4CB050","strokeWidth":2},
 "encoding":{"x":{"field":"x1","type":"quantitative","scale":{"domain":[-0.375,461.125],"nice":false,"zero":false},"axis":null},"x2":{"field":"x2"},
 "y":{"field":"p","type":"quantitative","scale":{"domain":[1.53462,1.73714],"nice":false,"zero":false},"axis":null}}},
{"data":{"name":"zigzag"},"mark":{"type":"line","color":"#000000","strokeWidth":2},
 "encoding":{"x":{"field":"i","type":"quantitative","scale":{"domain":[-0.375,461.125],"nice":false,"zero":false},"axis":null},
 "y":{"field":"p","type":"quantitative","scale":{"domain":[1.53462,1.73714],"nice":false,"zero":false},"axis":null},
 "detail":{"field":"seg","type":"nominal"},"order":{"field":"k","type":"quantitative"}}},
{"data":{"name":"connectors"},"mark":{"type":"rule","color":"#000000","strokeWidth":1},
 "encoding":{"x":{"field":"x1","type":"quantitative","scale":{"domain":[-0.375,461.125],"nice":false,"zero":false},"axis":null},"x2":{"field":"x2"},
 "y":{"field":"p","type":"quantitative","scale":{"domain":[1.53462,1.73714],"nice":false,"zero":false},"axis":null}}},
{"data":{"name":"boxes"},"mark":{"type":"rect","fill":"#FFFFFF","stroke":"#000000","strokeWidth":1},
 "encoding":{"x":{"field":"x1","type":"quantitative","scale":{"domain":[-0.375,461.125],"nice":false,"zero":false},"axis":null},"x2":{"field":"x2"},
 "y":{"field":"y1","type":"quantitative","scale":{"domain":[1.53462,1.73714],"nice":false,"zero":false},"axis":null},"y2":{"field":"y2"}}},
{"data":{"name":"boxes"},"mark":{"type":"text","align":"center","baseline":"middle","color":"#000000","font":"Liberation Sans"},
 "encoding":{"x":{"field":"tx","type":"quantitative","scale":{"domain":[-0.375,461.125],"nice":false,"zero":false},"axis":null},
 "y":{"field":"ty","type":"quantitative","scale":{"domain":[1.53462,1.73714],"nice":false,"zero":false},"axis":null},
 "text":{"field":"t"},"size":{"field":"fs","type":"quantitative","scale":null}}},
{"data":{"name":"tags"},"mark":{"type":"rect"},
 "encoding":{"x":{"field":"x1","type":"quantitative","scale":{"domain":[-0.375,461.125],"nice":false,"zero":false},"axis":null},"x2":{"field":"x2"},
 "y":{"field":"y1","type":"quantitative","scale":{"domain":[1.53462,1.73714],"nice":false,"zero":false},"axis":null},"y2":{"field":"y2"},
 "fill":{"field":"col","type":"nominal","scale":null}}},
{"data":{"name":"tags"},"mark":{"type":"text","align":"left","baseline":"middle","color":"#FFFFFF","fontSize":9,"font":"Liberation Sans"},
 "encoding":{"x":{"field":"tx","type":"quantitative","scale":{"domain":[-0.375,461.125],"nice":false,"zero":false},"axis":null},
 "y":{"field":"p","type":"quantitative","scale":{"domain":[1.53462,1.73714],"nice":false,"zero":false},"axis":null},
 "text":{"field":"t"}}},
{"data":{"name":"header"},"mark":{"type":"text","align":"left","baseline":"alphabetic","color":"#000000","fontSize":9.5,"font":"Liberation Sans"},
 "encoding":{"x":{"field":"i","type":"quantitative","scale":{"domain":[-0.375,461.125],"nice":false,"zero":false},"axis":null},
 "y":{"field":"p","type":"quantitative","scale":{"domain":[1.53462,1.73714],"nice":false,"zero":false},"axis":null},
 "text":{"field":"t"}}},
{"data":{"name":"marker"},"mark":{"type":"point","shape":"diamond","filled":true,"color":"#C8C8C8","size":90},
 "encoding":{"x":{"field":"i","type":"quantitative","scale":{"domain":[-0.375,461.125],"nice":false,"zero":false},"axis":null},
 "y":{"field":"p","type":"quantitative","scale":{"domain":[1.53462,1.73714],"nice":false,"zero":false},"axis":null}}}
]
}
